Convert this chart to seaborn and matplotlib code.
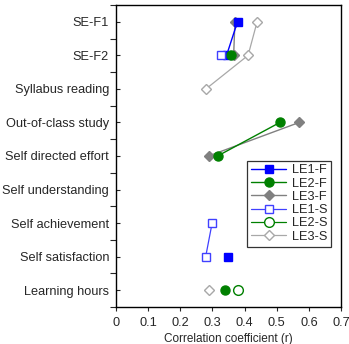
import numpy as np
import pandas as pd
import matplotlib
matplotlib.use("Agg")
import matplotlib.pyplot as plt
import seaborn as sns
from matplotlib.lines import Line2D
from matplotlib.ticker import FixedLocator

categories = ["SE-F1", "SE-F2", "Syllabus reading", "Out-of-class study",
              "Self directed effort", "Self understanding", "Self achievement",
              "Self satisfaction", "Learning hours"]
nan = np.nan
le1_f = [0.378, 0.344, nan, nan, nan, nan, nan, 0.347, nan]
le2_f = [nan, 0.359, nan, 0.510, 0.316, nan, nan, nan, 0.339]
le3_f = [0.370, 0.366, nan, 0.570, 0.288, nan, nan, nan, nan]
le1_s = [nan, 0.327, nan, nan, nan, nan, 0.299, 0.279, nan]
le2_s = [nan, nan, nan, nan, nan, nan, nan, nan, 0.378]
le3_s = [0.439, 0.411, 0.280, nan, nan, nan, nan, nan, 0.289]
series_names = ["LE1-F", "LE2-F", "LE3-F", "LE1-S", "LE2-S", "LE3-S"]
series_vals = [le1_f, le2_f, le3_f, le1_s, le2_s, le3_s]

styles = {
    "LE1-F": dict(color="#0000ff", marker="s", mfc="#0000ff", ms=6, lw=1.0),
    "LE2-F": dict(color="#008000", marker="o", mfc="#008000", ms=6.5, lw=1.0),
    "LE3-F": dict(color="#808080", marker="D", mfc="#808080", ms=5, lw=1.0),
    "LE1-S": dict(color="#4040ff", marker="s", mfc="white", ms=5.5, lw=0.9),
    "LE2-S": dict(color="#008000", marker="o", mfc="white", ms=7, lw=0.9),
    "LE3-S": dict(color="#a8a8a8", marker="D", mfc="white", ms=5, lw=0.9),
}

sns.set_style("ticks")
plt.rcParams["font.family"] = ["Liberation Sans", "DejaVu Sans"]

fig = plt.figure(figsize=(3.49, 3.44), dpi=100)
ax = fig.add_axes([116 / 349, 37 / 344, 225 / 349, 302 / 344])

ypos = np.arange(len(categories))
order = [2, 0, 1, 5, 3, 4]
for i in order:
    name = series_names[i]
    vals = np.array(series_vals[i], dtype=float)
    seg = np.cumsum(np.isnan(vals))
    df = pd.DataFrame({"x": vals, "y": ypos, "seg": seg}).dropna()
    st = styles[name]
    sns.lineplot(data=df, x="x", y="y", units="seg", estimator=None, sort=False,
                 ax=ax, color=st["color"], lw=st["lw"], legend=False,
                 marker=st["marker"], markersize=st["ms"],
                 markerfacecolor=st["mfc"], markeredgecolor=st["color"],
                 markeredgewidth=1.0)

ax.set_xlim(0, 0.7)
ax.set_ylim(len(categories) - 0.5, -0.5)
ax.set_xticks(np.arange(0, 0.71, 0.1))
ax.set_xticklabels(["0"] + [f"{v:.1f}" for v in np.arange(0.1, 0.71, 0.1)], fontsize=9.2)
ax.set_yticks(ypos)
ax.set_yticklabels(categories, fontsize=9.2)
ax.yaxis.set_minor_locator(FixedLocator(np.arange(-0.5, len(categories), 1.0)))
ax.tick_params(axis="y", which="major", direction="in", length=3, width=0.8, pad=5)
ax.tick_params(axis="y", which="minor", direction="out", length=4, width=0.8)
ax.tick_params(axis="x", which="major", direction="out", length=3, width=0.8, pad=4)
ax.set_xlabel("Correlation coefficient (r)", fontsize=8.5, labelpad=3)
ax.set_ylabel("")
for sp in ax.spines.values():
    sp.set_visible(True)
    sp.set_linewidth(1.0)
    sp.set_color("black")

handles = []
for name in series_names:
    st = styles[name]
    handles.append(Line2D([0], [0], color=st["color"], lw=st["lw"], marker=st["marker"],
                          markersize=st["ms"], markerfacecolor=st["mfc"],
                          markeredgecolor=st["color"]))
leg = ax.legend(handles, series_names, loc="lower right", bbox_to_anchor=(0.955, 0.2),
                fontsize=9.2, frameon=True, fancybox=False, edgecolor="black",
                handlelength=2.8, labelspacing=0.1, borderpad=0.3, handletextpad=0.4,
                borderaxespad=0)
leg.get_frame().set_linewidth(0.9)

fig.savefig("out.png", dpi=100)
